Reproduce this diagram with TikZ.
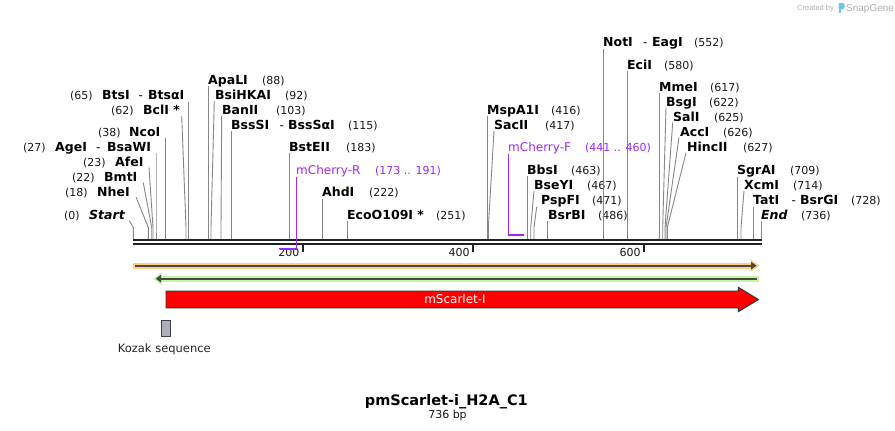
\documentclass[tikz,border=0pt]{standalone}
\usepackage{fontspec}
\setmainfont{DejaVu Sans}
\newfontfamily\wmfont{Liberation Sans}
\definecolor{seqc}{RGB}{34,34,34}
\definecolor{leadc}{RGB}{135,135,135}
\definecolor{primc}{RGB}{160,40,240}
\definecolor{orband}{RGB}{253,206,132}
\definecolor{grband}{RGB}{200,245,160}
\definecolor{featline}{RGB}{72,72,72}
\definecolor{kozc}{RGB}{170,175,185}
\definecolor{wmc}{RGB}{175,175,175}
\definecolor{logoc}{RGB}{110,195,240}
\tikzset{
  enzname/.style={anchor=base west, inner sep=0pt, font=\fontsize{12.5}{14}\selectfont\bfseries, text=black},
  enznum/.style={anchor=base west, inner sep=0pt, font=\fontsize{11}{13}\selectfont, text=black!90},
  enzdash/.style={anchor=base west, inner sep=0pt, font=\fontsize{12}{14}\selectfont, text=black},
  leader/.style={draw=leadc, line width=0.9pt},
  seqline/.style={draw=seqc, line width=2.4pt},
  tickmark/.style={draw=seqc, line width=2pt},
  ticklab/.style={anchor=base east, inner sep=0pt, font=\fontsize{11}{13}\selectfont, text=black!90},
  primer/.style={draw=primc, line width=1.3pt},
  primerbar/.style={draw=primc, line width=2.2pt},
  primlab/.style={anchor=base west, inner sep=0pt, font=\fontsize{12}{14}\selectfont, text=primc},
  primnum/.style={anchor=base west, inner sep=0pt, font=\fontsize{11}{13}\selectfont, text=primc},
}
\newcommand\rsite[9]{%
  \node[enzname] (#1-l) at (#3,#2) {#4};
  \node[enznum] (#1-n) at (#5,#2) {#6};
  \coordinate (#1-t) at (#7,#8);
  \coordinate (#1-m) at (#9,227.5);
  \coordinate (#1-s) at (#9,239);
  \draw[leader] (#1-t) -- (#1-m) -- (#1-s);
}
\begin{document}
\begin{tikzpicture}[x=1pt,y=-1pt]
\useasboundingbox (0,0) rectangle (895,431);
\fill[white] (0,0) rectangle (895,431);

% watermark
\node[anchor=base west, inner sep=0pt, font=\wmfont\fontsize{7.5}{9}\selectfont, text=wmc] (wm1) at (797,10.5) {Created by};
\fill[logoc] (838.5,3) rectangle (841,13);
\fill[logoc, rounded corners=1.5pt] (838.5,3) rectangle (844.5,9);
\node[anchor=base west, inner sep=0pt, font=\wmfont\fontsize{10}{12}\selectfont, text=wmc] (wm2) at (846,11) {SnapGene};

% enzyme sites
\rsite{start}{219.5}{89}{\textit{Start}}{64}{(0)}{129.3}{220.5}{133.3}
\rsite{nhe}{196.2}{97}{NheI}{65}{(18)}{136}{197}{148.3}
\rsite{bmt}{181.2}{104}{BmtI}{72}{(22)}{143.3}{182.7}{151.7}
\rsite{afe}{166.2}{115}{AfeI}{83}{(23)}{149}{167.5}{153}
\rsite{age}{151.8}{55}{AgeI}{23}{(27)}{156}{153}{156}
\node[enzdash] (age-d) at (96,151.8) {-};
\node[enzname] (age-l2) at (107,151.8) {BsaWI};
\rsite{nco}{136.2}{129}{NcoI}{98}{(38)}{165.7}{138}{165.7}
\rsite{bcl}{114.5}{143}{BclI *}{111}{(62)}{181.7}{116}{186}
\rsite{bts}{99.5}{102}{BtsI}{70}{(65)}{188.3}{101.7}{188.3}
\node[enzdash] (bts-d) at (138.5,99.5) {-};
\node[enzname] (bts-l2) at (148,99.5) {BtsαI};
\rsite{apa}{84.5}{208}{ApaLI}{262}{(88)}{208.3}{86}{208.3}
\rsite{bsihk}{99.5}{215}{BsiHKAI}{285}{(92)}{214.3}{101}{211}
\rsite{ban}{114.5}{222}{BanII}{276}{(103)}{221.7}{116}{221}
\rsite{bsssi}{129.5}{231}{BssSI}{348}{(115)}{231.7}{131}{231.7}
\node[enzdash] (bsssi-d) at (279.5,129.5) {-};
\node[enzname] (bsssi-l2) at (288,129.5) {BssSαI};
\rsite{bsteii}{151.2}{289}{BstEII}{346}{(183)}{289.3}{153}{289.3}
\rsite{ahd}{196.8}{322}{AhdI}{369}{(222)}{322.7}{198.5}{322.7}
\rsite{eco}{219.5}{347}{EcoO109I *}{436}{(251)}{347.7}{221}{347.7}
\rsite{msp}{114.5}{487}{MspA1I}{551}{(416)}{487.3}{116}{487.3}
\rsite{sac}{129.5}{494}{SacII}{545}{(417)}{494}{131}{488.3}
\rsite{bbs}{174.5}{527}{BbsI}{571}{(463)}{527.3}{176}{527.3}
\rsite{bsey}{189.5}{534}{BseYI}{587}{(467)}{534}{191}{530.7}
\rsite{pspf}{204.5}{541}{PspFI}{592}{(471)}{536.7}{206.7}{534}
\rsite{bsrb}{219.5}{548}{BsrBI}{598}{(486)}{547.3}{221}{547.3}
\rsite{not}{46.8}{603}{NotI}{694}{(552)}{603.3}{49}{603.3}
\node[enzdash] (not-d) at (643,46.8) {-};
\node[enzname] (not-l2) at (652,46.8) {EagI};
\rsite{eci}{69.5}{627}{EciI}{664}{(580)}{627.3}{71}{627.3}
\rsite{mme}{91.8}{659}{MmeI}{710}{(617)}{659.3}{93}{659.3}
\rsite{bsg}{106.2}{666}{BsgI}{709}{(622)}{666}{107.5}{662.7}
\rsite{sal}{121.2}{673}{SalI}{714}{(625)}{672.7}{122.7}{665}
\rsite{acc}{136.2}{680}{AccI}{723}{(626)}{679}{137.5}{666}
\rsite{hinc}{151.2}{687}{HincII}{743}{(627)}{686}{152.7}{667.3}
\rsite{sgra}{174.5}{737}{SgrAI}{790}{(709)}{737.3}{177}{737.3}
\rsite{xcm}{189.5}{744}{XcmI}{793}{(714)}{744}{191}{741}
\rsite{tat}{204.5}{753}{TatI}{851}{(728)}{753.3}{207}{753.3}
\node[enzdash] (tat-d) at (791.5,204.5) {-};
\node[enzname] (tat-l2) at (800,204.5) {BsrGI};
\rsite{end}{219.5}{761}{\textit{End}}{801}{(736)}{761.7}{221}{761.7}

% sequence
\coordinate (sq1a) at (133,240.2); \coordinate (sq1b) at (762,240.2);
\coordinate (sq2a) at (133,244.2); \coordinate (sq2b) at (762,244.2);
\draw[seqline] (sq1a) -- (sq1b);
\draw[seqline] (sq2a) -- (sq2b);

% ticks
\coordinate (t200a) at (302.7,245); \coordinate (t200b) at (302.7,251.5);
\coordinate (t400a) at (473,245); \coordinate (t400b) at (473,251.5);
\coordinate (t600a) at (644,245); \coordinate (t600b) at (644,251.5);
\draw[tickmark] (t200a) -- (t200b);
\draw[tickmark] (t400a) -- (t400b);
\draw[tickmark] (t600a) -- (t600b);
\node[ticklab] (l200) at (299.5,256.5) {200};
\node[ticklab] (l400) at (469.8,256.5) {400};
\node[ticklab] (l600) at (640.8,256.5) {600};

% primers
\node[primlab] (mr-l) at (296,174.5) {mCherry-R};
\node[primnum] (mr-n) at (375,174.5) {(173 .. 191)};
\coordinate (mr-t) at (296.3,176.5);
\coordinate (mr-b) at (296.3,249.3);
\coordinate (mr-e) at (280,249.3);
\draw[primer] (mr-t) -- (mr-b);
\draw[primerbar] (mr-e) -- ([xshift=0.6pt]mr-b);
\node[primlab] (mf-l) at (508,151.8) {mCherry-F};
\node[primnum] (mf-n) at (585,151.8) {(441 .. 460)};
\coordinate (mf-t) at (508.3,154);
\coordinate (mf-b) at (508.3,235.2);
\coordinate (mf-e) at (523.5,235.2);
\draw[primer] (mf-t) -- (mf-b);
\draw[primerbar] ([xshift=-0.6pt]mf-b) -- (mf-e);

% orange feature (forward)
\fill[orband] (133,262.7) rectangle (755,268.7);
\fill[orband] (750.5,259.3) -- (759.5,265.7) -- (750.5,272.1) -- cycle;
\draw[featline, line width=1.8pt] (135,265.7) -- (752,265.7);
\fill[featline] (751,261.8) -- (756.5,265.7) -- (751,269.6) -- cycle;

% green feature (reverse)
\fill[grband] (160,275.7) rectangle (759,281.7);
\fill[grband] (161.5,272.3) -- (153.3,278.7) -- (161.5,285.1) -- cycle;
\draw[featline, line width=1.8pt] (757,278.7) -- (160,278.7);
\fill[featline] (161,274.8) -- (155.8,278.7) -- (161,282.6) -- cycle;

% mScarlet-I
\draw[fill=red, draw=black!80, line width=0.9pt] (166,291) -- (738.3,291) -- (738.3,287.3) -- (758.5,299.5) -- (738.3,311.7) -- (738.3,307.9) -- (166,307.9) -- cycle;
\node[inner sep=0pt, font=\fontsize{12}{14}\selectfont, text=white] (scar) at (455,299.5) {mScarlet-I};

% Kozak
\node[draw=black!75, fill=kozc, line width=0.8pt, inner sep=0pt, minimum width=9.4pt, minimum height=16.7pt] (koz) at (166,328.3) {};
\node[inner sep=0pt, font=\fontsize{11.5}{13}\selectfont, text=black!85] (kozl) at (164.3,349) {Kozak sequence};

% title
\node[anchor=base, inner sep=0pt, font=\fontsize{14.5}{17}\selectfont\bfseries, text=black] (title) at (446.3,405.5) {pmScarlet-i\_H2A\_C1};
\node[anchor=base, inner sep=0pt, font=\fontsize{11}{13}\selectfont, text=black!90] (bp) at (447.5,418.5) {736 bp};
\end{tikzpicture}
\end{document}
